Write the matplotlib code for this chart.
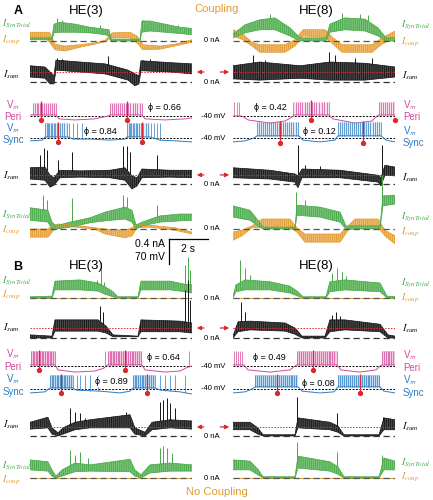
import numpy as np
import matplotlib
matplotlib.use('Agg')
import matplotlib.pyplot as plt

plt.rcParams['font.family'] = ['Liberation Sans', 'DejaVu Sans']
plt.rcParams['mathtext.fontset'] = 'stix'
plt.rcParams['hatch.linewidth'] = 0.6

W, H = 433, 500
PX_S = 19.5        # px per second
PX_NA = 62.5       # px per nA
PX_MV = 25 / 70    # px per mV
SPAN = 8.31        # seconds shown per column

GREEN, GREEN_L = '#46a948', '#7cc47a'
ORANGE, ORANGE_L = '#e39a2d', '#efbd72'
PINK, PINK_L = '#d4489e', '#eea5d0'
BLUE, BLUE_L = '#2f7cc3', '#95c3ea'
RED = '#d82a2e'
BLACK, BLACK_L = '#151515', '#4a4a4a'

# ---- data: (time s, low nA, high nA) envelopes, (time, peak) spikes ----
# Panel A, HE(3)
A3_SYN1 = [(0, 0.02, 0.05), (1.13, 0.02, 0.05), (1.23, 0.13, 0.27), (1.54, 0.14, 0.30), (2.31, 0.14, 0.27),
           (3.08, 0.13, 0.22), (3.85, 0.10, 0.19), (4.05, 0.08, 0.18), (4.15, 0.0, 0.03), (5.64, 0.0, 0.03),
           (5.74, 0.14, 0.32), (6.15, 0.16, 0.32), (6.92, 0.14, 0.27), (7.69, 0.12, 0.22), (8.31, 0.10, 0.20)]
A3_SYN1_PK = [(1.38, 0.37), (1.64, 0.33), (3.59, 0.26), (5.79, 0.34), (7.59, 0.25)]
A3_COUP1 = [(0, 0.05, 0.14), (0.77, 0.05, 0.14), (1.03, -0.03, 0.13), (1.28, -0.14, -0.05), (1.79, -0.16, -0.08),
            (2.56, -0.10, -0.06), (3.33, -0.05, -0.03), (3.85, -0.01, 0.01), (4.21, 0.05, 0.13), (5.13, 0.05, 0.14),
            (5.49, -0.03, 0.08), (5.79, -0.14, -0.06), (6.67, -0.13, -0.08), (7.44, -0.08, -0.05), (8.31, -0.02, 0.02)]
A3_SUM1 = [(0, 0.08, 0.26), (0.77, 0.06, 0.24), (1.03, -0.03, 0.16), (1.23, -0.03, 0.10), (1.33, 0.19, 0.35),
           (2.56, 0.16, 0.32), (3.85, 0.13, 0.29), (4.21, 0.10, 0.26), (5.03, 0.03, 0.19), (5.38, -0.06, 0.13),
           (5.59, -0.03, 0.10), (5.69, 0.18, 0.34), (7.18, 0.16, 0.31), (8.31, 0.13, 0.29)]
A3_SUM1_PK = [(1.38, 0.38), (1.64, 0.37), (4.0, 0.42), (5.79, 0.35), (6.15, 0.37)]
A3_PERI = [(0, -37), (1.33, -37), (1.49, -48), (2.31, -51), (3.33, -48), (4.0, -40), (4.10, -37), (5.74, -37),
           (5.90, -48), (6.92, -51), (7.95, -48), (8.31, -45)]
A3_PERI_SPK = [0.15, 0.24, 0.34, 0.43, 0.52, 0.62, 0.71, 0.81, 0.91, 1.01, 1.12, 1.22, 1.32,
               4.12, 4.22, 4.31, 4.41, 4.51, 4.62, 4.72, 4.83, 4.93, 5.04, 5.15, 5.26, 5.38, 5.50, 5.62, 5.73]
A3_PERI_WIN = [(0.15, 1.33), (4.10, 5.74)]
A3_PERI_PH = [(0.56, -51), (4.97, -51)]
A3_SYNC = [(0, -48), (0.62, -46), (0.77, -37), (1.95, -37), (2.21, -43), (3.08, -43), (4.10, -46), (4.87, -43),
           (4.97, -37), (6.15, -37), (6.67, -46), (7.44, -48), (8.31, -51)]
A3_SYNC_SPK = [0.79, 0.86, 0.93, 1.00, 1.07, 1.14, 1.21, 1.29, 1.37, 1.46, 1.55, 1.65, 1.76, 1.88, 2.02, 2.18,
               2.40, 2.69, 4.99, 5.06, 5.13, 5.20, 5.27, 5.35, 5.43, 5.51, 5.60, 5.70, 5.81, 5.93, 6.06, 6.20,
               6.36, 6.53, 6.68]
A3_SYNC_WIN = [(0.77, 1.95), (4.97, 6.15)]
A3_SYNC_PH = [(1.44, -51), (5.74, -51)]
A3_SUM2 = [(0, 0.08, 0.26), (0.77, 0.06, 0.27), (1.03, -0.05, 0.14), (1.23, -0.02, 0.10), (1.54, 0.10, 0.22),
           (2.56, 0.11, 0.21), (4.10, 0.10, 0.22), (4.87, 0.06, 0.26), (5.23, -0.08, 0.13), (5.49, -0.03, 0.10),
           (5.74, 0.10, 0.24), (7.18, 0.11, 0.22), (8.31, 0.10, 0.22)]
A3_SUM2_PK = [(0.51, 0.46), (0.72, 0.58), (0.87, 0.54), (1.44, 0.38), (2.15, 0.51), (4.77, 0.61), (4.97, 0.61),
              (5.13, 0.51), (6.51, 0.46)]
A3_SYN2 = [(0, 0.14, 0.34), (0.92, 0.11, 0.30), (1.13, 0.0, 0.11), (1.33, 0.0, 0.05), (2.05, 0.03, 0.11),
           (3.08, 0.10, 0.18), (3.85, 0.13, 0.27), (4.87, 0.16, 0.35), (5.23, 0.11, 0.30), (5.44, 0.0, 0.06),
           (5.74, 0.05, 0.11), (6.67, 0.11, 0.21), (7.69, 0.13, 0.24), (8.31, 0.14, 0.24)]
A3_SYN2_PK = [(0.67, 0.54), (0.87, 0.46), (2.15, 0.50), (4.77, 0.54), (4.97, 0.51), (6.51, 0.38)]
A3_COUP2 = [(0, -0.13, 0.0), (0.92, -0.13, 0.0), (1.13, -0.05, 0.05), (1.44, 0.05, 0.08), (2.31, 0.03, 0.06),
            (3.33, 0.0, 0.02), (3.85, -0.08, 0.0), (4.87, -0.14, -0.02), (5.23, -0.11, 0.02), (5.49, 0.02, 0.08),
            (6.15, 0.03, 0.06), (7.44, -0.02, 0.02), (8.31, -0.08, -0.05)]

# Panel A, HE(8)
A8_SYN1 = [(0, 0.05, 0.11), (0.62, 0.13, 0.26), (1.38, 0.18, 0.34), (2.15, 0.18, 0.37), (2.92, 0.08, 0.21),
           (3.44, 0.0, 0.05), (4.77, 0.0, 0.05), (4.97, 0.14, 0.27), (5.74, 0.18, 0.37), (6.77, 0.16, 0.35),
           (7.44, 0.08, 0.21), (7.85, 0.0, 0.05), (8.31, 0.0, 0.05)]
A8_SYN1_PK = [(1.90, 0.43), (5.59, 0.45), (6.51, 0.43), (6.92, 0.42)]
A8_COUP1 = [(0, 0.08, 0.18), (0.51, 0.02, 0.11), (0.97, -0.08, -0.02), (1.38, -0.18, -0.06), (2.67, -0.18, -0.06),
            (3.18, -0.08, 0.02), (3.59, 0.08, 0.18), (4.72, 0.06, 0.18), (5.13, -0.05, 0.05), (5.59, -0.18, -0.06),
            (7.13, -0.18, -0.06), (7.64, -0.05, 0.05), (8.31, 0.05, 0.16)]
A8_SUM1 = [(0, 0.05, 0.26), (1.38, 0.03, 0.32), (3.44, 0.06, 0.26), (4.97, 0.03, 0.32), (6.77, 0.03, 0.30),
           (8.31, 0.08, 0.24)]
A8_SUM1_PK = [(1.03, 0.43), (1.64, 0.35), (4.92, 0.48), (5.23, 0.43), (6.26, 0.38), (7.13, 0.38)]
A8_PERI = [(0, -40), (0.46, -40), (0.77, -51), (1.90, -60), (2.67, -54), (3.03, -43), (3.13, -37), (4.92, -37),
           (5.13, -48), (6.26, -60), (7.13, -54), (7.38, -40), (7.49, -37), (8.31, -37)]
A8_PERI_SPK = [0.05, 0.18, 0.32, 3.10, 3.21, 3.33, 3.44, 3.56, 3.68, 3.80, 3.92, 4.04, 4.16, 4.28, 4.41, 4.54,
               4.67, 4.80, 4.93, 7.50, 7.60, 7.70, 7.80, 7.90, 8.00, 8.10, 8.20, 8.29]
A8_PERI_WIN = [(3.13, 4.92), (7.49, 8.31)]
A8_PERI_PH = [(4.0, -51), (8.31, -51)]
A8_SYNC = [(0, -51), (0.62, -48), (1.08, -40), (1.23, -34), (3.38, -34), (3.59, -46), (4.46, -51), (5.23, -46),
           (5.38, -34), (7.59, -34), (7.85, -46), (8.31, -51)]
A8_SYNC_SPK = [1.25, 1.35, 1.45, 1.55, 1.65, 1.75, 1.85, 1.95, 2.05, 2.15, 2.25, 2.35, 2.45, 2.55, 2.66, 2.77,
               2.88, 2.99, 3.10, 3.21, 3.32, 5.40, 5.50, 5.60, 5.70, 5.80, 5.90, 6.00, 6.10, 6.20, 6.30, 6.40,
               6.50, 6.61, 6.72, 6.83, 6.94, 7.05, 7.16, 7.27, 7.38, 7.48, 7.58]
A8_SYNC_WIN = [(1.23, 3.38), (5.38, 7.59)]
A8_SYNC_PH = [(2.41, -54), (6.67, -54)]
A8_SUM2 = [(0, 0.10, 0.26), (1.90, 0.08, 0.22), (3.18, 0.03, 0.16), (3.33, -0.06, 0.13), (3.54, 0.10, 0.24),
           (5.49, 0.10, 0.22), (7.44, 0.03, 0.14), (7.59, -0.03, 0.10), (7.79, 0.14, 0.30), (8.31, 0.13, 0.27)]
A8_SUM2_PK = [(3.33, 0.62), (3.69, 0.30), (4.46, 0.29), (7.64, 0.62)]
A8_SYN2 = [(0, 0.19, 0.37), (0.87, 0.14, 0.30), (1.28, 0.05, 0.14), (1.54, 0.0, 0.03), (3.18, 0.0, 0.03),
           (3.28, 0.22, 0.38), (4.46, 0.19, 0.35), (5.49, 0.11, 0.27), (5.79, 0.0, 0.05), (7.54, 0.0, 0.05),
           (7.69, 0.37, 0.53), (8.31, 0.40, 0.54)]
A8_SYN2_PK = [(3.23, 0.59), (3.69, 0.46), (7.64, 0.86)]
A8_COUP2 = [(0, -0.18, -0.05), (0.46, -0.11, -0.02), (0.97, 0.02, 0.05), (1.49, 0.02, 0.16), (2.92, 0.02, 0.16),
            (3.28, -0.05, 0.02), (3.69, -0.21, -0.08), (5.49, -0.21, -0.08), (5.90, -0.02, 0.05), (6.26, 0.02, 0.16),
            (7.44, 0.02, 0.16), (7.79, -0.11, -0.02), (8.31, -0.24, -0.11)]

# Panel B, HE(3)  (no coupling: I_coup stays at 0)
B3_SYN1 = [(0, 0.0, 0.02), (1.13, 0.0, 0.03), (1.28, 0.13, 0.27), (2.56, 0.13, 0.29), (3.49, 0.11, 0.24),
           (3.85, 0.06, 0.18), (4.26, 0.02, 0.10), (4.51, 0.0, 0.02), (5.54, 0.0, 0.02), (5.69, 0.13, 0.27),
           (7.18, 0.13, 0.27), (7.95, 0.10, 0.22), (8.31, 0.08, 0.21)]
B3_SYN1_PK = [(3.44, 0.29), (3.64, 0.58), (3.79, 0.26), (7.95, 0.53), (8.10, 0.66), (8.21, 0.45)]
B3_SUM1 = [(0, 0.0, 0.05), (1.13, 0.0, 0.03), (1.28, 0.11, 0.29), (3.49, 0.11, 0.29), (3.90, 0.08, 0.19),
           (4.26, 0.02, 0.05), (5.54, 0.02, 0.03), (5.69, 0.10, 0.29), (7.69, 0.10, 0.27), (8.31, 0.08, 0.24)]
B3_SUM1_PK = [(3.59, 0.51), (3.74, 0.42), (7.95, 0.77), (8.10, 0.93), (8.21, 0.61)]
B3_PERI = [(0, -37), (1.28, -37), (1.44, -51), (2.31, -57), (3.33, -54), (3.79, -46), (3.95, -37), (5.74, -37),
           (5.90, -51), (6.92, -57), (7.69, -54), (8.10, -43), (8.31, -40)]
B3_PERI_SPK = [0.05, 0.13, 0.21, 0.29, 0.37, 0.45, 0.53, 0.61, 0.69, 0.77, 0.85, 0.93, 1.01, 1.09, 1.17, 1.26,
               3.85, 4.00, 4.08, 4.16, 4.24, 4.32, 4.40, 4.49, 4.58, 4.67, 4.76, 4.85, 4.94, 5.03, 5.12, 5.21,
               5.30, 5.40, 5.50, 5.60, 5.70, 8.15]
B3_PERI_WIN = [(0.03, 1.28), (3.98, 5.74)]
B3_PERI_PH = [(0.46, -51), (4.87, -51)]
B3_SYNC = [(0, -51), (0.77, -48), (1.03, -37), (2.21, -37), (2.36, -43), (3.59, -46), (4.62, -51), (5.13, -46),
           (5.28, -37), (6.41, -37), (6.67, -43), (7.69, -48), (8.31, -54)]
B3_SYNC_SPK = [1.05, 1.12, 1.20, 1.28, 1.36, 1.45, 1.54, 1.63, 1.72, 1.82, 1.92, 2.02, 2.12, 2.20, 2.41, 2.56,
               2.82, 3.08, 3.49, 5.30, 5.38, 5.46, 5.55, 5.64, 5.73, 5.82, 5.92, 6.02, 6.12, 6.22, 6.32, 6.40,
               6.67, 6.92, 7.18, 7.44, 7.95]
B3_SYNC_WIN = [(1.03, 2.21), (5.28, 6.41)]
B3_SYNC_PH = [(1.59, -51), (6.0, -51)]
B3_SUM2 = [(0, 0.11, 0.22), (0.92, 0.13, 0.30), (1.13, 0.03, 0.13), (1.44, 0.0, 0.05), (1.69, 0.03, 0.13),
           (2.31, 0.10, 0.22), (3.08, 0.13, 0.26), (5.13, 0.13, 0.34), (5.38, 0.03, 0.13), (5.90, 0.0, 0.06),
           (6.26, 0.10, 0.22), (7.18, 0.13, 0.26), (8.31, 0.11, 0.24)]
B3_SUM2_PK = [(2.05, 0.45), (2.31, 0.38), (2.56, 0.37), (2.82, 0.29), (4.92, 0.38), (6.67, 0.54), (6.82, 0.58),
              (7.03, 0.61), (7.18, 0.53), (7.44, 0.45)]
B3_SYN2 = [(0, 0.13, 0.29), (0.92, 0.11, 0.26), (1.13, 0.03, 0.13), (1.33, 0.0, 0.03), (1.64, 0.03, 0.13),
           (2.31, 0.10, 0.24), (3.08, 0.11, 0.21), (5.13, 0.10, 0.30), (5.38, 0.03, 0.13), (5.69, 0.0, 0.05),
           (6.15, 0.08, 0.21), (7.18, 0.11, 0.24), (8.31, 0.11, 0.21)]
B3_SYN2_PK = [(2.05, 0.45), (2.31, 0.37), (2.56, 0.42), (2.97, 0.32), (6.67, 0.48), (6.82, 0.51), (7.03, 0.48),
              (7.28, 0.40)]

# Panel B, HE(8)
B8_SYN1 = [(0, 0.0, 0.02), (0.15, 0.10, 0.21), (0.62, 0.13, 0.29), (1.90, 0.13, 0.26), (2.92, 0.08, 0.19),
           (3.33, 0.03, 0.10), (3.59, 0.0, 0.02), (4.77, 0.0, 0.02), (4.97, 0.10, 0.26), (5.74, 0.13, 0.29),
           (7.54, 0.10, 0.24), (7.90, 0.0, 0.03), (8.31, 0.0, 0.02)]
B8_SYN1_PK = [(0.36, 0.61), (0.62, 0.48), (0.87, 0.37), (5.08, 0.40), (5.33, 0.48), (5.59, 0.42), (5.79, 0.35)]
B8_SUM1 = [(0, 0.0, 0.03), (0.26, 0.10, 0.26), (0.87, 0.13, 0.27), (2.67, 0.11, 0.24), (3.18, 0.06, 0.16),
           (3.54, 0.0, 0.03), (4.72, 0.0, 0.03), (4.97, 0.10, 0.29), (5.74, 0.13, 0.29), (7.54, 0.10, 0.22),
           (7.95, 0.0, 0.05), (8.31, 0.0, 0.03)]
B8_SUM1_PK = [(0.41, 0.58), (0.62, 0.42), (5.08, 0.37), (5.28, 0.42), (5.49, 0.35)]
B8_PERI = [(0, -37), (0.56, -37), (0.77, -51), (1.90, -57), (2.92, -51), (3.18, -40), (3.28, -37), (5.33, -37),
           (5.54, -51), (6.51, -57), (7.33, -51), (7.54, -40), (7.64, -37), (8.31, -37)]
B8_PERI_SPK = [0.05, 0.15, 0.26, 0.36, 0.46, 3.30, 3.40, 3.50, 3.60, 3.70, 3.80, 3.90, 4.00, 4.10, 4.20, 4.30,
               4.40, 4.50, 4.60, 4.70, 4.80, 4.90, 5.00, 5.10, 5.20, 5.31, 7.66, 7.75, 7.84, 7.93, 8.02, 8.11,
               8.20, 8.29]
B8_PERI_WIN = [(3.28, 5.33), (7.64, 8.31)]
B8_PERI_PH = [(4.1, -51)]
B8_SYNC = [(0, -51), (0.62, -48), (0.97, -40), (1.13, -34), (3.33, -34), (3.54, -46), (4.46, -51), (5.18, -48),
           (5.38, -34), (7.54, -34), (7.74, -46), (8.31, -51)]
B8_SYNC_SPK = [1.15, 1.25, 1.35, 1.45, 1.55, 1.65, 1.75, 1.85, 1.95, 2.05, 2.15, 2.25, 2.35, 2.45, 2.55, 2.65,
               2.75, 2.85, 2.95, 3.05, 3.15, 3.25, 5.40, 5.50, 5.60, 5.70, 5.80, 5.90, 6.00, 6.10, 6.20, 6.30,
               6.40, 6.50, 6.60, 6.70, 6.80, 6.90, 7.00, 7.10, 7.20, 7.30, 7.40, 7.50]
B8_SYNC_WIN = [(1.13, 3.33), (5.38, 7.54)]
B8_SYNC_PH = [(2.26, -51), (6.51, -51)]
B8_SUM2 = [(0, 0.10, 0.22), (0.87, 0.10, 0.22), (1.28, 0.03, 0.13), (1.54, 0.0, 0.02), (3.18, 0.0, 0.02),
           (3.33, 0.13, 0.29), (4.97, 0.10, 0.22), (5.38, 0.06, 0.16), (5.69, 0.0, 0.02), (7.49, 0.0, 0.02),
           (7.74, 0.10, 0.29), (8.31, 0.10, 0.26)]
B8_SUM2_PK = [(3.28, 0.62), (5.33, 0.37), (7.69, 0.30)]
B8_SYN2 = [(0, 0.13, 0.29), (0.87, 0.13, 0.27), (1.28, 0.05, 0.14), (1.54, 0.0, 0.02), (3.18, 0.0, 0.02),
           (3.33, 0.16, 0.35), (4.97, 0.11, 0.26), (5.38, 0.06, 0.18), (5.69, 0.0, 0.02), (7.49, 0.0, 0.02),
           (7.74, 0.13, 0.32), (8.31, 0.13, 0.27)]
B8_SYN2_PK = [(3.28, 0.58), (5.33, 0.42), (7.64, 0.37)]

NO_COUP = [(0, 0.0, 0.0), (8.31, 0.0, 0.0)]
SUM_LEVEL = [0.16, 0.145]           # red reference level of the two I_sum rows (nA)
SPIKE_TOP = {'A3': (-3, 2), 'A8': (0, 4), 'B3': (2, -1), 'B8': (2, -1)}   # peri, sync (mV)
PHI = {'A3': ('0.66', '0.84'), 'A8': ('0.42', '0.12'), 'B3': ('0.64', '0.89'), 'B8': ('0.49', '0.08')}

# ---- figure ----
fig = plt.figure(figsize=(W / 100, H / 100), dpi=100)


def ftext(x, y, s, **kw):
    kw.setdefault('va', 'center')
    fig.text(x / W, 1 - y / H, s, **kw)


def axes_at(x0, yz, ref, px_per_unit):
    top, bot = yz - 75, yz + 25
    ax = fig.add_axes([x0 / W, 1 - bot / H, SPAN * PX_S / W, (bot - top) / H])
    ax.set_xlim(0, SPAN)
    ax.set_ylim(ref - (bot - yz) / px_per_unit, ref + (yz - top) / px_per_unit)
    ax.axis('off')
    return ax


def band(ax, rows, color, light, peaks=()):
    t, lo, hi = np.array(rows, dtype=float).T
    ax.fill_between(t, lo, hi, facecolor=light, edgecolor=color, hatch='||||||||', lw=0)
    ax.plot(t, hi, color=color, lw=0.5)
    ax.plot(t, lo, color=color, lw=0.5)
    if len(peaks):
        pt, pv = np.array(peaks, dtype=float).T
        ax.vlines(pt, np.interp(pt, t, hi), pv, color=color, lw=0.7)


def vm(ax, base, spikes, top, wins, phase, color, light, alpha):
    bt, bv = np.array(base, dtype=float).T
    for a, b in wins:
        ax.fill_between([a, b], np.interp([a, b], bt, bv), top, color=light, alpha=alpha, lw=0)
    ax.axhline(-40, color='k', ls=(0, (2, 1.5)), lw=0.7)
    ax.plot(bt, bv, color=color, lw=0.7)
    ax.vlines(spikes, np.interp(spikes, bt, bv), top, color=color, lw=0.5)
    pt, pv = np.array(phase, dtype=float).T
    ax.vlines(pt, pv, top + 4, color=RED, lw=0.9)
    ax.plot(pt, pv, 'o', color=RED, ms=2.8, clip_on=False)


def arrow(ax, level, left):
    if left:
        ax.annotate('', xy=(SPAN + 0.1, level), xytext=(SPAN + 0.75, level), annotation_clip=False,
                    arrowprops=dict(arrowstyle='-|>', color=RED, lw=0.9, mutation_scale=6))
    else:
        ax.annotate('', xy=(-0.05, level), xytext=(-0.8, level), annotation_clip=False,
                    arrowprops=dict(arrowstyle='-|>', color=RED, lw=0.9, mutation_scale=6))


def column(x0, ys, key, syn1, coup1, sum1, peri, sync, sum2, syn2, coup2, left, fill_alpha):
    # top currents
    ax = axes_at(x0, ys[0], 0, PX_NA)
    band(ax, coup1[0], ORANGE, ORANGE_L)
    band(ax, syn1[0], GREEN, GREEN_L, syn1[1])
    ax.axhline(0, color='#555555', ls=(0, (5, 3)), lw=0.9)
    # I_sum
    ax = axes_at(x0, ys[1], 0, PX_NA)
    band(ax, sum1[0], BLACK, BLACK_L, sum1[1])
    ax.axhline(SUM_LEVEL[0], color=RED, ls=(0, (1.5, 1.5)), lw=0.7)
    ax.axhline(0, color='#333333', ls=(0, (5, 3)), lw=0.9)
    arrow(ax, SUM_LEVEL[0], left)
    # Vm
    ptop, stop = SPIKE_TOP[key]
    ax = axes_at(x0, ys[2], -40, PX_MV)
    vm(ax, peri[0], peri[1], ptop, peri[2], peri[3], PINK, PINK_L, fill_alpha)
    ax = axes_at(x0, ys[3], -40, PX_MV)
    vm(ax, sync[0], sync[1], stop, sync[2], sync[3], BLUE, BLUE_L, fill_alpha)
    # I_sum (second)
    ax = axes_at(x0, ys[4], 0, PX_NA)
    band(ax, sum2[0], BLACK, BLACK_L, sum2[1])
    ax.axhline(SUM_LEVEL[1], color=RED, ls=(0, (1.5, 1.5)), lw=0.7)
    ax.axhline(0, color='#333333', ls=(0, (5, 3)), lw=0.9)
    arrow(ax, SUM_LEVEL[1], left)
    # bottom currents
    ax = axes_at(x0, ys[5], 0, PX_NA)
    band(ax, coup2, ORANGE, ORANGE_L)
    band(ax, syn2[0], GREEN, GREEN_L, syn2[1])
    ax.axhline(0, color='#555555', ls=(0, (5, 3)), lw=0.9)
    return ax


A_Y = [41, 82, 116, 138, 184, 229]
B_Y = [298, 338, 366, 389, 436, 478]
XL, XR = 30, 233

ax_bar = column(XL, A_Y, 'A3', (A3_SYN1, A3_SYN1_PK), (A3_COUP1,), (A3_SUM1, A3_SUM1_PK),
                (A3_PERI, A3_PERI_SPK, A3_PERI_WIN, A3_PERI_PH), (A3_SYNC, A3_SYNC_SPK, A3_SYNC_WIN, A3_SYNC_PH),
                (A3_SUM2, A3_SUM2_PK), (A3_SYN2, A3_SYN2_PK), A3_COUP2, True, 0.3)
column(XR, A_Y, 'A8', (A8_SYN1, A8_SYN1_PK), (A8_COUP1,), (A8_SUM1, A8_SUM1_PK),
       (A8_PERI, A8_PERI_SPK, A8_PERI_WIN, A8_PERI_PH), (A8_SYNC, A8_SYNC_SPK, A8_SYNC_WIN, A8_SYNC_PH),
       (A8_SUM2, A8_SUM2_PK), (A8_SYN2, A8_SYN2_PK), A8_COUP2, False, 0.3)
column(XL, B_Y, 'B3', (B3_SYN1, B3_SYN1_PK), (NO_COUP,), (B3_SUM1, B3_SUM1_PK),
       (B3_PERI, B3_PERI_SPK, B3_PERI_WIN, B3_PERI_PH), (B3_SYNC, B3_SYNC_SPK, B3_SYNC_WIN, B3_SYNC_PH),
       (B3_SUM2, B3_SUM2_PK), (B3_SYN2, B3_SYN2_PK), NO_COUP, True, 0.6)
column(XR, B_Y, 'B8', (B8_SYN1, B8_SYN1_PK), (NO_COUP,), (B8_SUM1, B8_SUM1_PK),
       (B8_PERI, B8_PERI_SPK, B8_PERI_WIN, B8_PERI_PH), (B8_SYNC, B8_SYNC_SPK, B8_SYNC_WIN, B8_SYNC_PH),
       (B8_SUM2, B8_SUM2_PK), (B8_SYN2, B8_SYN2_PK), NO_COUP, False, 0.6)

# scale bar: 2 s, 0.4 nA / 70 mV
t0, c0 = 7.13, -0.16
ax_bar.plot([t0, t0 + 2], [c0, c0], color='k', lw=0.9, clip_on=False)
ax_bar.plot([t0, t0], [c0, c0 - 0.4], color='k', lw=0.9, clip_on=False)
ftext(165, 244, '0.4 nA', ha='right', fontsize=7.5)
ftext(165, 257, '70 mV', ha='right', fontsize=7.5)
ftext(188, 249, '2 s', ha='center', fontsize=7.5)

# titles and panel letters
ftext(18, 11, 'A', fontsize=9, fontweight='bold', ha='center')
ftext(18, 267, 'B', fontsize=9, fontweight='bold', ha='center')
for y in (11, 266):
    ftext(86, y, 'HE(3)', fontsize=9.5, ha='center')
    ftext(316, y, 'HE(8)', fontsize=9.5, ha='center')
ftext(217, 9, 'Coupling', fontsize=8, color=ORANGE, ha='center')
ftext(217, 492, 'No Coupling', fontsize=8, color=ORANGE, ha='center')

# centre units
for ys in (A_Y, B_Y):
    for k in (0, 1, 4, 5):
        ftext(212, ys[k], '0 nA', fontsize=5.5, ha='center')
    for k in (2, 3):
        ftext(213, ys[k], '-40 mV', fontsize=5.5, ha='center')

# phase values
phi_pos = {'A3': ((165, 108), (100, 131)), 'A8': ((270, 108), (319, 132)),
           'B3': ((163, 358), (111, 382)), 'B8': ((269, 358), (318, 383))}
for key, (pp, sp) in phi_pos.items():
    for (x, y), val in zip((pp, sp), PHI[key]):
        ftext(x, y, '\u03d5 = ' + val, fontsize=6.5, ha='center',
              bbox=dict(facecolor='white', edgecolor='none', pad=0.6))

# trace labels
SYN_TXT, COUP_TXT, SUM_TXT = r'$I_{SynTotal}$', r'$I_{coup}$', r'$I_{sum}$'
VM_TXT = r'V$_{\mathsf{m}}$'


def labels(x, vx, ys, ha):
    syn1, coup1, sum1, vm1, peri, vm2, sync, sum2, syn2, coup2 = ys
    ftext(x, syn1, SYN_TXT, color=GREEN, fontsize=7, ha='left')
    ftext(x, coup1, COUP_TXT, color=ORANGE, fontsize=7, ha='left')
    ftext(x + 1, sum1, SUM_TXT, color=BLACK, fontsize=7.5, ha='left')
    ftext(vx, vm1, VM_TXT, color=PINK, fontsize=7, ha=ha)
    ftext(vx, peri, 'Peri', color=PINK, fontsize=7, ha=ha)
    ftext(vx, vm2, VM_TXT, color=BLUE, fontsize=7, ha=ha)
    ftext(vx, sync, 'Sync', color=BLUE, fontsize=7, ha=ha)
    ftext(x + 1, sum2, SUM_TXT, color=BLACK, fontsize=7.5, ha='left')
    ftext(x, syn2, SYN_TXT, color=GREEN, fontsize=7, ha='left')
    ftext(x, coup2, COUP_TXT, color=ORANGE, fontsize=7, ha='left')


labels(2, 13, (24, 40, 75, 105, 117, 128, 140, 176, 215, 230), 'center')
labels(401, 403, (25, 42, 76, 105, 117, 131, 143, 178, 217, 232), 'left')
labels(2, 13, (281, 295, 328, 354, 367, 379, 392, 425, 466, 480), 'center')
labels(401, 403, (283, 298, 329, 355, 368, 380, 393, 427, 463, 477), 'left')

fig.savefig('out.png', dpi=100)
